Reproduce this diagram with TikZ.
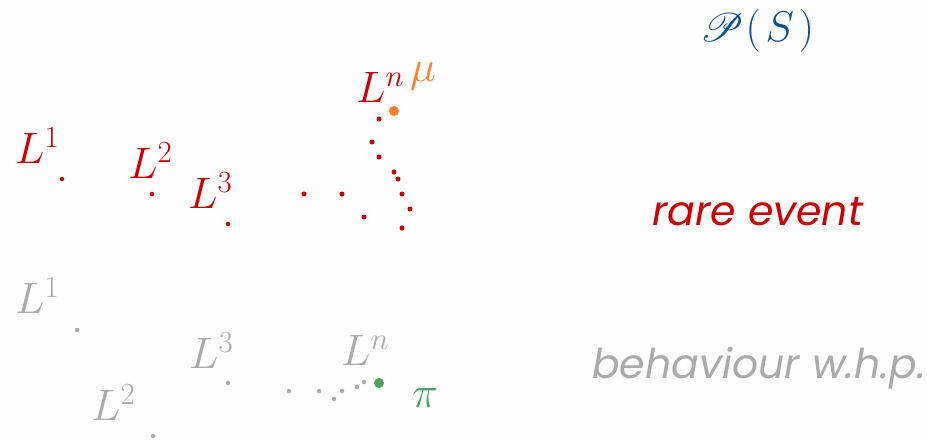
\RequirePackage{fix-cm}
\documentclass[tikz,border=0pt]{standalone}
\usepackage{fontspec}
\usepackage{graphicx}
\usepackage{mathrsfs}
\newfontfamily\pop{Poppins}
\definecolor{myred}{HTML}{CC0000}
\definecolor{myorange}{HTML}{FF7F2A}
\definecolor{mygreen}{HTML}{4CA060}
\definecolor{mygray}{HTML}{AAAAAA}
\definecolor{myblue}{HTML}{0C4D9C}
\definecolor{bg}{HTML}{FDFDFD}
\begin{document}
\begin{tikzpicture}[x=1pt,y=-1pt,
  lab/.style={anchor=base west,inner sep=0pt,font=\fontsize{44}{50}\selectfont},
  txt/.style={anchor=base west,inner sep=0pt,font=\fontsize{41}{47}\selectfont\pop\itshape},
  rdot/.style={circle,fill=myred,inner sep=0pt,minimum size=5pt},
  sdot/.style={circle,fill=myred,inner sep=0pt,minimum size=4.5pt},
  gdot/.style={circle,fill=mygray,inner sep=0pt,minimum size=4.5pt}]
\fill[bg] (0,0) rectangle (927,440);
\useasboundingbox (0,0) rectangle (927,440);
% title
\node[lab,text=myblue,font=\fontsize{43}{49}\selectfont] (ps) at (700,41)
  {\scalebox{1.6}{$\mathscr{P}$}\hspace{2pt}$(\mkern2mu S\mkern2mu)$};
% red rare event
\node[lab,text=myred] (r1) at (15,163) {$L^{1}$};
\node[lab,text=myred] (r2) at (128,178) {$L^{2}$};
\node[lab,text=myred] (r3) at (188,208) {$L^{3}$};
\node[lab,text=myred] (rn) at (356,102) {$L^{n}$};
\node[lab,text=myorange] (mu) at (410,81) {$\mu$};
\node[sdot] (d1) at (62,179) {};
\node[sdot] (d2) at (152,194) {};
\node[sdot] (d3) at (228,224) {};
\node[rdot] (e1) at (304,194) {};
\node[rdot] (e2) at (342,194) {};
\node[rdot] (e3) at (364,217) {};
\node[rdot] (e4) at (402,228) {};
\node[rdot] (e5) at (410,209) {};
\node[rdot] (e6) at (402,194) {};
\node[rdot] (e7) at (398,179) {};
\node[rdot] (e8) at (394,172) {};
\node[rdot] (e9) at (379,157) {};
\node[rdot] (e10) at (372,142) {};
\node[rdot] (e11) at (379,119) {};
\node[circle,fill=myorange,inner sep=0pt,minimum size=10pt] (mud) at (394,111) {};
\node[txt,text=myred] (rare) at (652,225) {rare event};
% gray typical behaviour
\node[lab,text=mygray] (g1) at (15,313) {$L^{1}$};
\node[lab,text=mygray] (g2) at (91,420) {$L^{2}$};
\node[lab,text=mygray] (g3) at (189,368) {$L^{3}$};
\node[lab,text=mygray] (gn) at (341,365) {$L^{n}$};
\node[gdot] (h1) at (77,330) {};
\node[gdot] (h2) at (153,436) {};
\node[gdot] (h3) at (228,383) {};
\node[gdot] (k1) at (289,391) {};
\node[gdot] (k2) at (319,391) {};
\node[gdot] (k3) at (334,399) {};
\node[gdot] (k4) at (342,391) {};
\node[gdot] (k5) at (357,387) {};
\node[gdot] (k6) at (364,382) {};
\node[circle,fill=mygreen,inner sep=0pt,minimum size=10pt] (pid) at (379,383) {};
\node[lab,text=mygreen] (pi) at (412,407) {$\pi$};
\node[txt,text=mygray] (beh) at (592,378) {behaviour w.h.p.};
\end{tikzpicture}
\end{document}
